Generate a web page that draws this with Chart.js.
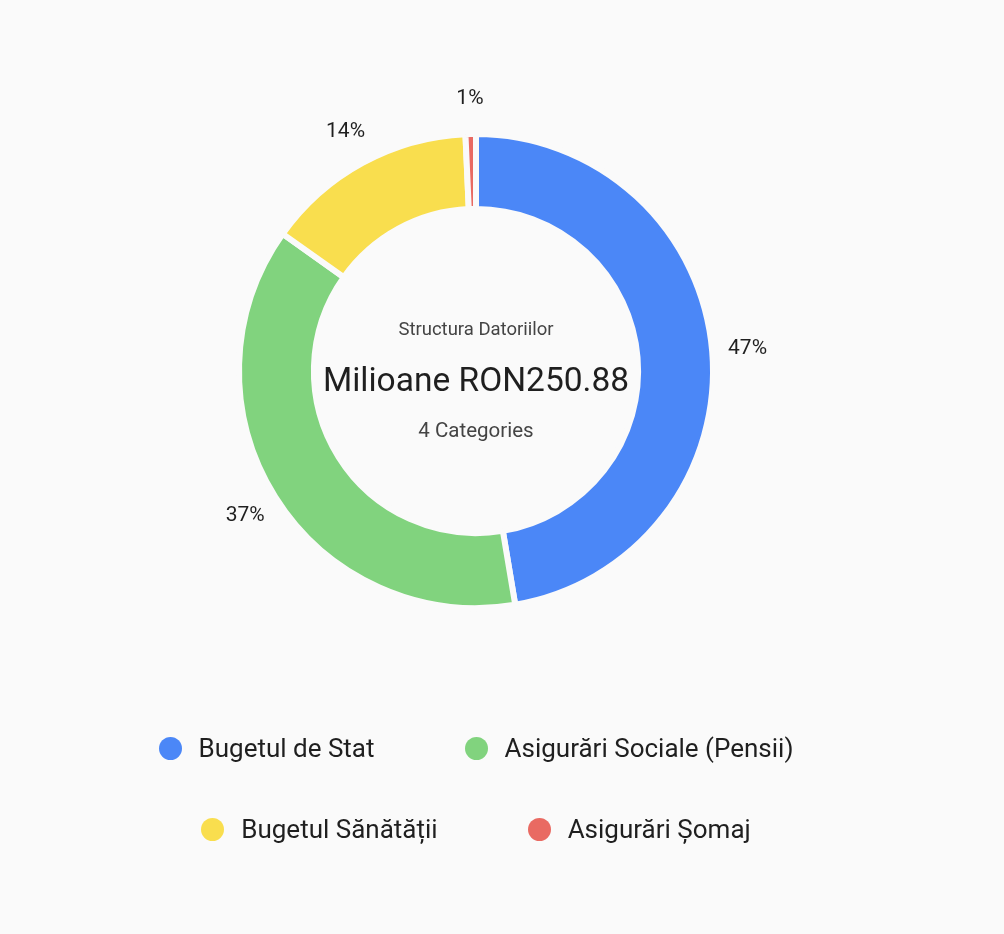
<!DOCTYPE html>
<html>
<head>
<meta charset="utf-8">
<script src="https://cdn.jsdelivr.net/npm/chart.js@4.4.1/dist/chart.umd.min.js"></script>
<style>
    html, body { margin: 0; padding: 0; background: #fafafa; }
    body { width: 1004px; height: 934px; position: relative; overflow: hidden; font-family: Roboto, "Open Sans", sans-serif; }
    .chart-wrap { position: absolute; left: 0; top: 0; width: 952px; height: 742px; }
    .legend {
        position: absolute; left: 0; top: 733px; width: 952px;
        display: flex; flex-wrap: wrap; justify-content: center;
        padding: 0 90px; box-sizing: border-box; row-gap: 51px;
    }
    .legend-item { display: flex; align-items: center; height: 30px; margin: 0 45px; font-size: 26px; color: #1f1f1f; white-space: nowrap; }
    .legend-dot { width: 23px; height: 23px; border-radius: 50%; margin-right: 17px; flex: none; }
</style>
</head>
<body>
<div class="chart-wrap"><canvas id="debtChart"></canvas></div>
<div class="legend" id="legend"></div>
<script>
// Structura datoriilor (milioane RON)
const categories = ['Bugetul de Stat', 'Asigurări Sociale (Pensii)', 'Bugetul Sănătății', 'Asigurări Șomaj'];
const values = [118.8, 94.0, 36.3, 1.78];
const colors = ['#4b87f7', '#81d37e', '#f9de4e', '#e96a62'];

const centerTitle = 'Structura Datoriilor';
const centerValue = 'Milioane RON250.88';
const centerSub = categories.length + ' Categories';

const total = values.reduce((a, b) => a + b, 0);

// Percent labels outside the ring + text in the middle
const ringLabels = {
    id: 'ringLabels',
    afterDatasetsDraw(chart) {
        const ctx = chart.ctx;
        const meta = chart.getDatasetMeta(0);
        ctx.save();
        ctx.textAlign = 'center';
        ctx.textBaseline = 'middle';
        meta.data.forEach((arc, i) => {
            const mid = (arc.startAngle + arc.endAngle) / 2;
            const r = arc.outerRadius + 35.5;
            const x = arc.x + Math.cos(mid) * r;
            const y = arc.y + Math.sin(mid) * r;
            ctx.fillStyle = '#1f1f1f';
            ctx.font = '21px Roboto';
            ctx.fillText(Math.round(values[i] / total * 100) + '%', x, y);
        });

        const arc0 = meta.data[0];
        const cx = arc0.x, cy = arc0.y;
        ctx.fillStyle = '#444';
        ctx.font = '18.5px Roboto';
        ctx.fillText(centerTitle, cx, cy - 41);
        ctx.fillStyle = '#1f1f1f';
        ctx.font = '33.5px Roboto';
        ctx.fillText(centerValue, cx, cy + 12);
        ctx.fillStyle = '#444';
        ctx.font = '20.5px Roboto';
        ctx.fillText(centerSub, cx, cy + 61);
        ctx.restore();
    }
};

new Chart(document.getElementById('debtChart'), {
    type: 'doughnut',
    data: {
        labels: categories,
        datasets: [{
            data: values,
            backgroundColor: colors,
            borderColor: '#fafafa',
            borderWidth: 6
        }]
    },
    options: {
        responsive: true,
        maintainAspectRatio: false,
        animation: false,
        cutout: '68.4%',
        layout: { padding: { top: 131, bottom: 131 } },
        plugins: {
            legend: { display: false },
            tooltip: { enabled: false }
        }
    },
    plugins: [ringLabels]
});

// HTML legend
document.getElementById('legend').innerHTML = categories.map((c, i) => `
    <div class="legend-item"><span class="legend-dot" style="background:${colors[i]}"></span>${c}</div>
`).join('');
</script>
</body>
</html>
